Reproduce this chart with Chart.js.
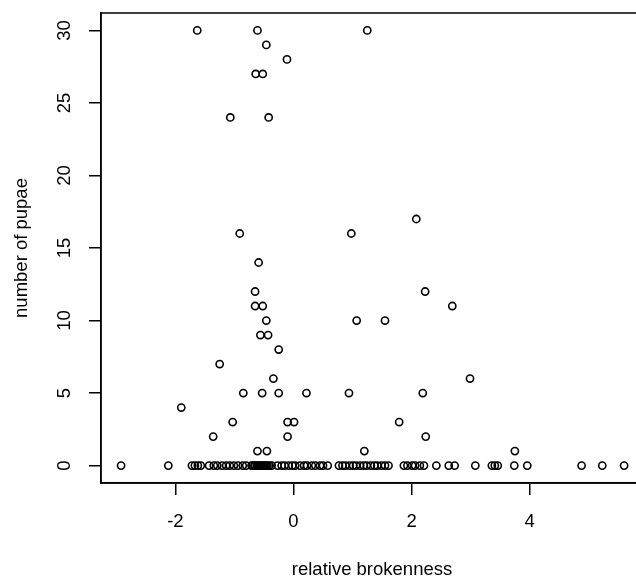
<!DOCTYPE html>
<html>
<head>
<meta charset="utf-8">
<title>number of pupae vs relative brokenness</title>
<script src="https://cdn.jsdelivr.net/npm/chart.js@4"></script>
<style>
  html, body { margin: 0; padding: 0; background: #fff; overflow: hidden; }
  #wrap { width: 636px; height: 578px; overflow: hidden; position: relative; }
  #plot { position: absolute; left: 0; top: 0; }
</style>
</head>
<body>
<div id="wrap"><canvas id="plot" width="660" height="584"></canvas></div>
<script>
// points with at least one pupa (x = relative brokenness, y = number of pupae)
const brokenness = [
  -1.63, -0.61, 1.25,
  -0.46,
  -0.11,
  -0.64, -0.52,
  -1.07, -0.42,
  2.08,
  -0.91, 0.98,
  -0.59,
  -0.65, 2.23,
  -0.65, -0.52, 2.69,
  -0.46, 1.07, 1.55,
  -0.56, -0.43,
  -0.25,
  -1.25,
  -0.34, 2.99,
  -0.85, -0.53, -0.25, 0.22, 0.94, 2.19,
  -1.90,
  -1.03, -0.10, 0.01, 1.79,
  -1.36, -0.10, 2.24,
  -0.61, -0.45, 1.20, 3.75
];
const pupae = [
  30, 30, 30,
  29,
  28,
  27, 27,
  24, 24,
  17,
  16, 16,
  14,
  12, 12,
  11, 11, 11,
  10, 10, 10,
  9, 9,
  8,
  7,
  6, 6,
  5, 5, 5, 5, 5, 5,
  4,
  3, 3, 3, 3,
  2, 2, 2,
  1, 1, 1, 1
];

// brokenness of the sites with no pupae (y = 0 row)
const brokennessNoPupae = [
  -2.92, -2.12,
  -1.72, -1.67, -1.62, -1.57,
  -1.43, -1.35, -1.29, -1.21, -1.14, -1.08, -1.01, -0.94, -0.86, -0.80,
  -0.71, -0.69, -0.66, -0.65, -0.62, -0.61, -0.58, -0.55, -0.53, -0.51, -0.49, -0.46, -0.44, -0.41,
  -0.37, -0.27, -0.20, -0.15, -0.08, -0.02, 0.03, 0.11, 0.18, 0.23, 0.31, 0.37, 0.45, 0.50, 0.58,
  0.77, 0.83, 0.88, 0.95, 1.01, 1.06, 1.13, 1.19, 1.24, 1.31, 1.37, 1.42, 1.49, 1.55, 1.61,
  1.87, 1.93, 2.01, 2.06, 2.14, 2.21,
  2.42, 2.63, 2.73, 3.08, 3.36, 3.41, 3.46, 3.74, 3.96,
  4.88, 5.23, 5.60
];

const xTicks = [-2, 0, 2, 4];
const yTicks = [0, 5, 10, 15, 20, 25, 30];

const FONT = '"Liberation Sans", Arial, Helvetica, sans-serif';

// build points for the scatter
let points = brokenness.map((x, i) => ({ x: x, y: pupae[i] }));
brokennessNoPupae.forEach(x => points.push({ x: x, y: 0 }));

// R style box + rotated y tick labels
const boxPlugin = {
  id: 'boxPlugin',
  afterDraw(chart) {
    const ctx = chart.ctx;
    const a = chart.chartArea;
    const y = chart.scales.y;
    ctx.save();
    ctx.strokeStyle = '#000';
    ctx.lineWidth = 1.5;
    ctx.strokeRect(a.left, a.top, a.right - a.left, a.bottom - a.top);

    ctx.fillStyle = '#000';
    ctx.font = '18.5px ' + FONT;
    ctx.textAlign = 'center';
    ctx.textBaseline = 'middle';
    y.ticks.forEach(t => {
      const py = y.getPixelForValue(t.value);
      ctx.save();
      ctx.translate(a.left - 36, py);
      ctx.rotate(-Math.PI / 2);
      ctx.fillText(String(t.value), 0, 0);
      ctx.restore();
    });
    ctx.restore();
  }
};

window.onload = function() {
  const ctx = document.getElementById('plot').getContext('2d');

  new Chart(ctx, {
    type: 'scatter',
    data: {
      datasets: [{
        data: points,
        pointStyle: 'circle',
        pointRadius: 3.6,
        pointHoverRadius: 3.6,
        borderWidth: 1.6,
        borderColor: '#000',
        backgroundColor: 'rgba(0,0,0,0)'
      }]
    },
    options: {
      responsive: false,
      animation: false,
      layout: { padding: { left: 0, top: 13, right: 17, bottom: 0 } },
      plugins: {
        legend: { display: false },
        tooltip: { enabled: false }
      },
      scales: {
        x: {
          type: 'linear',
          min: -3.26,
          max: 5.92,
          afterBuildTicks: s => { s.ticks = xTicks.map(v => ({ value: v })); },
          afterFit: s => { s.height = 101; },
          grid: { drawOnChartArea: false, drawTicks: true, tickLength: 12, color: '#000', lineWidth: 1.5 },
          border: { display: true, color: '#000', width: 1.5 },
          ticks: { color: '#000', padding: 16, font: { family: FONT, size: 18.5 } },
          title: {
            display: true,
            text: 'relative brokenness',
            color: '#000',
            font: { family: FONT, size: 18.5 },
            padding: { top: 0, bottom: 3 }
          }
        },
        y: {
          type: 'linear',
          min: -1.2,
          max: 31.2,
          afterBuildTicks: s => { s.ticks = yTicks.map(v => ({ value: v })); },
          afterFit: s => { s.width = 101; },
          grid: { drawOnChartArea: false, drawTicks: true, tickLength: 12, color: '#000', lineWidth: 1.5 },
          border: { display: true, color: '#000', width: 1.5 },
          ticks: { display: false },
          title: {
            display: true,
            text: 'number of pupae',
            color: '#000',
            font: { family: FONT, size: 18.5 },
            padding: { top: 11, bottom: 0 }
          }
        }
      }
    },
    plugins: [boxPlugin]
  });
};
</script>
</body>
</html>
